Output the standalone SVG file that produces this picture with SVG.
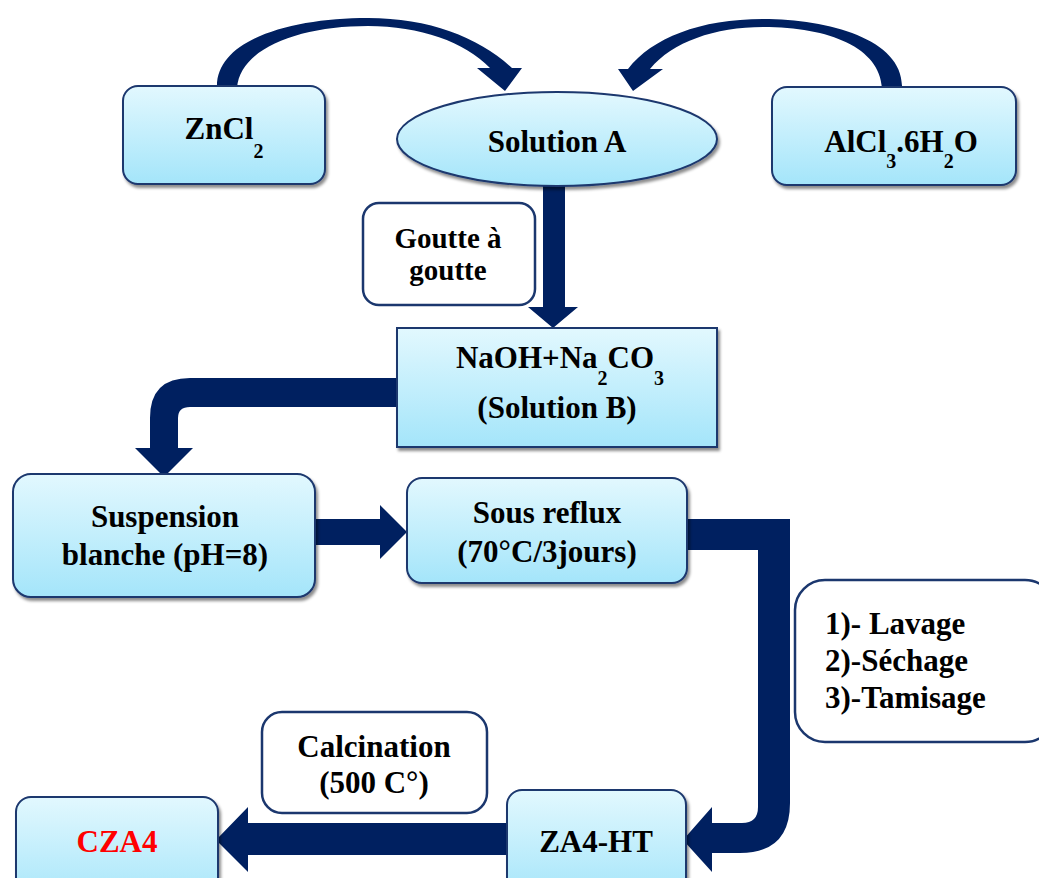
<svg xmlns="http://www.w3.org/2000/svg" width="1039" height="878" viewBox="0 0 1039 878">
<defs>
<linearGradient id="g" x1="0" y1="0" x2="0" y2="1">
<stop offset="0" stop-color="#E2F8FE"/>
<stop offset="1" stop-color="#A4E5FA"/>
</linearGradient>
<filter id="sh" x="-10%" y="-10%" width="125%" height="130%">
<feDropShadow dx="2" dy="3" stdDeviation="1.5" flood-color="#000" flood-opacity="0.45"/>
</filter>
<style>
.box{fill:url(#g);stroke:#1B376E;stroke-width:2;filter:url(#sh)}
.lbl{fill:#fff;stroke:#1B376E;stroke-width:2.5}
.arr{fill:#002060}
text{font-family:"Liberation Serif","Times New Roman",serif;font-weight:bold;font-size:31px;fill:#000;text-anchor:middle}
.s{font-size:20px}
.sm{font-size:29px}
</style>
</defs>
<g id="connectors">
<path class="arr" d="M 217 88 C 215 40 290 18 368 18 C 430 18 480 38 512 68 L 522 68 L 505 91 L 477 68 L 490 68 C 465 42 420 26 368 26 C 300 26 240 48 237 88 Z"/>
<path class="arr" d="M 902 88 C 904 40 830 19 763 19 C 700 19 652 38 628 69 L 618 69 L 633 91 L 663 69 L 650 69 C 672 42 715 27 763 27 C 830 27 880 48 882 88 Z"/>
<path class="arr" d="M 543 180 L 565 180 L 565 307 L 578 307 L 553 328 L 528 307 L 543 307 Z"/>
<path class="arr" d="M 400 378 L 190 378 Q 150 378 150 418 L 150 448 L 135 448 L 164 477 L 193 448 L 178 448 L 178 418 Q 178 407 190 407 L 400 407 Z"/>
<path class="arr" d="M 312 519 L 380 519 L 380 505 L 407 532 L 380 559 L 380 545 L 312 545 Z"/>
<path class="arr" d="M 684 519 L 790 519 L 790 803 Q 790 853 740 853 L 712 853 L 712 872 L 683 840 L 712 807 L 712 823 L 742 823 Q 758 823 758 807 L 758 550 L 684 550 Z"/>
<path class="arr" d="M 510 823 L 248 823 L 248 807 L 216 840 L 248 872 L 248 855 L 510 855 Z"/>
</g>
<g id="zncl2">
<rect class="box" x="123" y="86" width="202" height="98" rx="15"/>
<text x="224" y="139">ZnCl<tspan class="s" dy="19">2</tspan></text>
</g>
<g id="solutionA">
<ellipse class="box" cx="557" cy="139" rx="160" ry="47"/>
<text x="557" y="152">Solution A</text>
</g>
<g id="alcl3">
<rect class="box" x="772" y="87" width="244" height="98" rx="15"/>
<text x="901" y="152">AlCl<tspan class="s" dy="16">3</tspan><tspan dy="-16">.6H</tspan><tspan class="s" dy="16">2</tspan><tspan dy="-16">O</tspan></text>
</g>
<g id="goutte">
<rect class="lbl" x="363" y="203" width="172" height="102" rx="16"/>
<text class="sm" x="448" y="248">Goutte à</text>
<text class="sm" x="448" y="280">goutte</text>
</g>
<g id="solutionB">
<rect class="box" x="397" y="328" width="320" height="119"/>
<text x="560" y="368">NaOH+Na<tspan class="s" dy="17">2</tspan><tspan dy="-17">CO</tspan><tspan class="s" dy="17">3</tspan></text>
<text x="557" y="418">(Solution B)</text>
</g>
<g id="suspension">
<rect class="box" x="13" y="474" width="302" height="123" rx="18"/>
<text x="165" y="527">Suspension</text>
<text x="165" y="565">blanche (pH=8)</text>
</g>
<g id="reflux">
<rect class="box" x="407" y="478" width="280" height="105" rx="15"/>
<text x="547" y="523">Sous reflux</text>
<text x="547" y="562">(70°C/3jours)</text>
</g>
<g id="etapes">
<rect class="lbl" x="795" y="580" width="260" height="162" rx="30"/>
<text x="825" y="634" style="text-anchor:start">1)- Lavage</text>
<text x="825" y="671" style="text-anchor:start">2)-Séchage</text>
<text x="825" y="708" style="text-anchor:start">3)-Tamisage</text>
</g>
<g id="calcination">
<rect class="lbl" x="262" y="712" width="225" height="101" rx="20"/>
<text x="374" y="757">Calcination</text>
<text x="374" y="793">(500 C°)</text>
</g>
<g id="za4ht">
<rect class="box" x="507" y="790" width="179" height="110" rx="15"/>
<text x="596" y="852">ZA4-HT</text>
</g>
<g id="cza4">
<rect class="box" x="16" y="797" width="202" height="110" rx="15"/>
<text x="117" y="852" style="fill:#FF0000">CZA4</text>
</g>
</svg>
